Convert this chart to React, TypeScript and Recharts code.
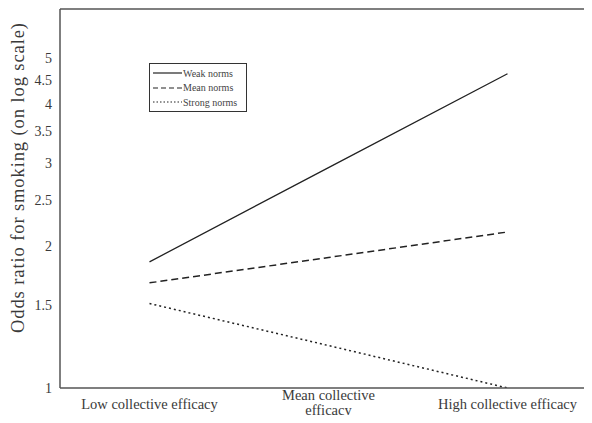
import React from "react"
import {
    LineChart,
    Line,
    XAxis,
    YAxis,
    ReferenceLine,
    Label,
} from "recharts"

const categories = ["Low collective efficacy", "Mean collective efficacy", "High collective efficacy"]
const weakNorms = [1.85, 2.93, 4.63]
const meanNorms = [1.67, 1.89, 2.14]
const strongNorms = [1.51, 1.23, 1.0]
const yTicks = [1, 1.5, 2, 2.5, 3, 3.5, 4, 4.5, 5]
const yMax = 6.35

const data = categories.map((c, i) => ({
    name: c,
    weak: weakNorms[i],
    mean: meanNorms[i],
    strong: strongNorms[i],
}))

const FONT = "'Liberation Serif', 'DejaVu Serif', serif"
const TEXT = "#3a3a3a"

function XTick(props: any) {
    const { x, y, payload } = props
    const lines = payload.value === "Mean collective efficacy"
        ? ["Mean collective", "efficacy"]
        : [payload.value]
    const startY = lines.length > 1 ? y + 12 : y + 21
    return (
        <g>
            {lines.map((l, i) => (
                <text key={i} x={x} y={startY + i * 15} textAnchor="middle"
                    fill={TEXT} fontSize={14.5} fontFamily={FONT}>{l}</text>
            ))}
        </g>
    )
}

function YLabel() {
    return (
        <text x={24} y={178} transform="rotate(-90 24 178)" textAnchor="middle"
            fill={TEXT} fontSize={18.5} fontFamily={FONT} textLength={310} lengthAdjust="spacing">
            Odds ratio for smoking (on log scale)
        </text>
    )
}

function LegendBox() {
    const items = [
        { label: "Weak norms", dash: undefined },
        { label: "Mean norms", dash: "5 3" },
        { label: "Strong norms", dash: "1.5 2" },
    ]
    return (
        <div style={{
            position: "absolute", left: 149, top: 63, border: "1.3px solid #333",
            background: "#fff", padding: "2px 2px 1px 2px", width: 92,
        }}>
            {items.map((it) => (
                <div key={it.label} style={{ display: "flex", alignItems: "center", height: 14.5 }}>
                    <svg width={30} height={6}>
                        <line x1={1} y1={3} x2={30} y2={3} stroke="#222" strokeWidth={1.2} strokeDasharray={it.dash} />
                    </svg>
                    <span style={{ fontFamily: FONT, fontSize: 10, color: "#444", marginLeft: 1 }}>{it.label}</span>
                </div>
            ))}
        </div>
    )
}

export default function App() {
    return (
        <div style={{ margin: -8, width: 592, height: 423, overflow: "hidden", background: "#fff", position: "relative" }}>
            <LineChart width={600} height={423} data={data}
                margin={{ top: 9, right: 3, bottom: 0, left: 0 }}>
                <XAxis dataKey="name" scale="band" height={35} tick={<XTick />} tickLine={false}
                    tickSize={0} tickMargin={0} stroke="#555" strokeWidth={1.5} interval={0} />
                <YAxis scale="log" domain={[1, yMax]} ticks={yTicks} allowDataOverflow interval={0}
                    width={60} tickLine={false} stroke="#555" strokeWidth={1.5}
                    tick={{ fill: TEXT, fontSize: 14, fontFamily: FONT }} tickMargin={2}>
                    <Label content={<YLabel />} />
                </YAxis>
                <ReferenceLine y={yMax} stroke="#555" strokeWidth={1.5} />
                <Line dataKey="weak" stroke="#222" strokeWidth={1.3} dot={false} isAnimationActive={false} />
                <Line dataKey="mean" stroke="#222" strokeWidth={1.5} strokeDasharray="7 4" dot={false} isAnimationActive={false} />
                <Line dataKey="strong" stroke="#222" strokeWidth={1.5} strokeDasharray="2 3" dot={false} isAnimationActive={false} />
            </LineChart>
            <LegendBox />
        </div>
    )
}
